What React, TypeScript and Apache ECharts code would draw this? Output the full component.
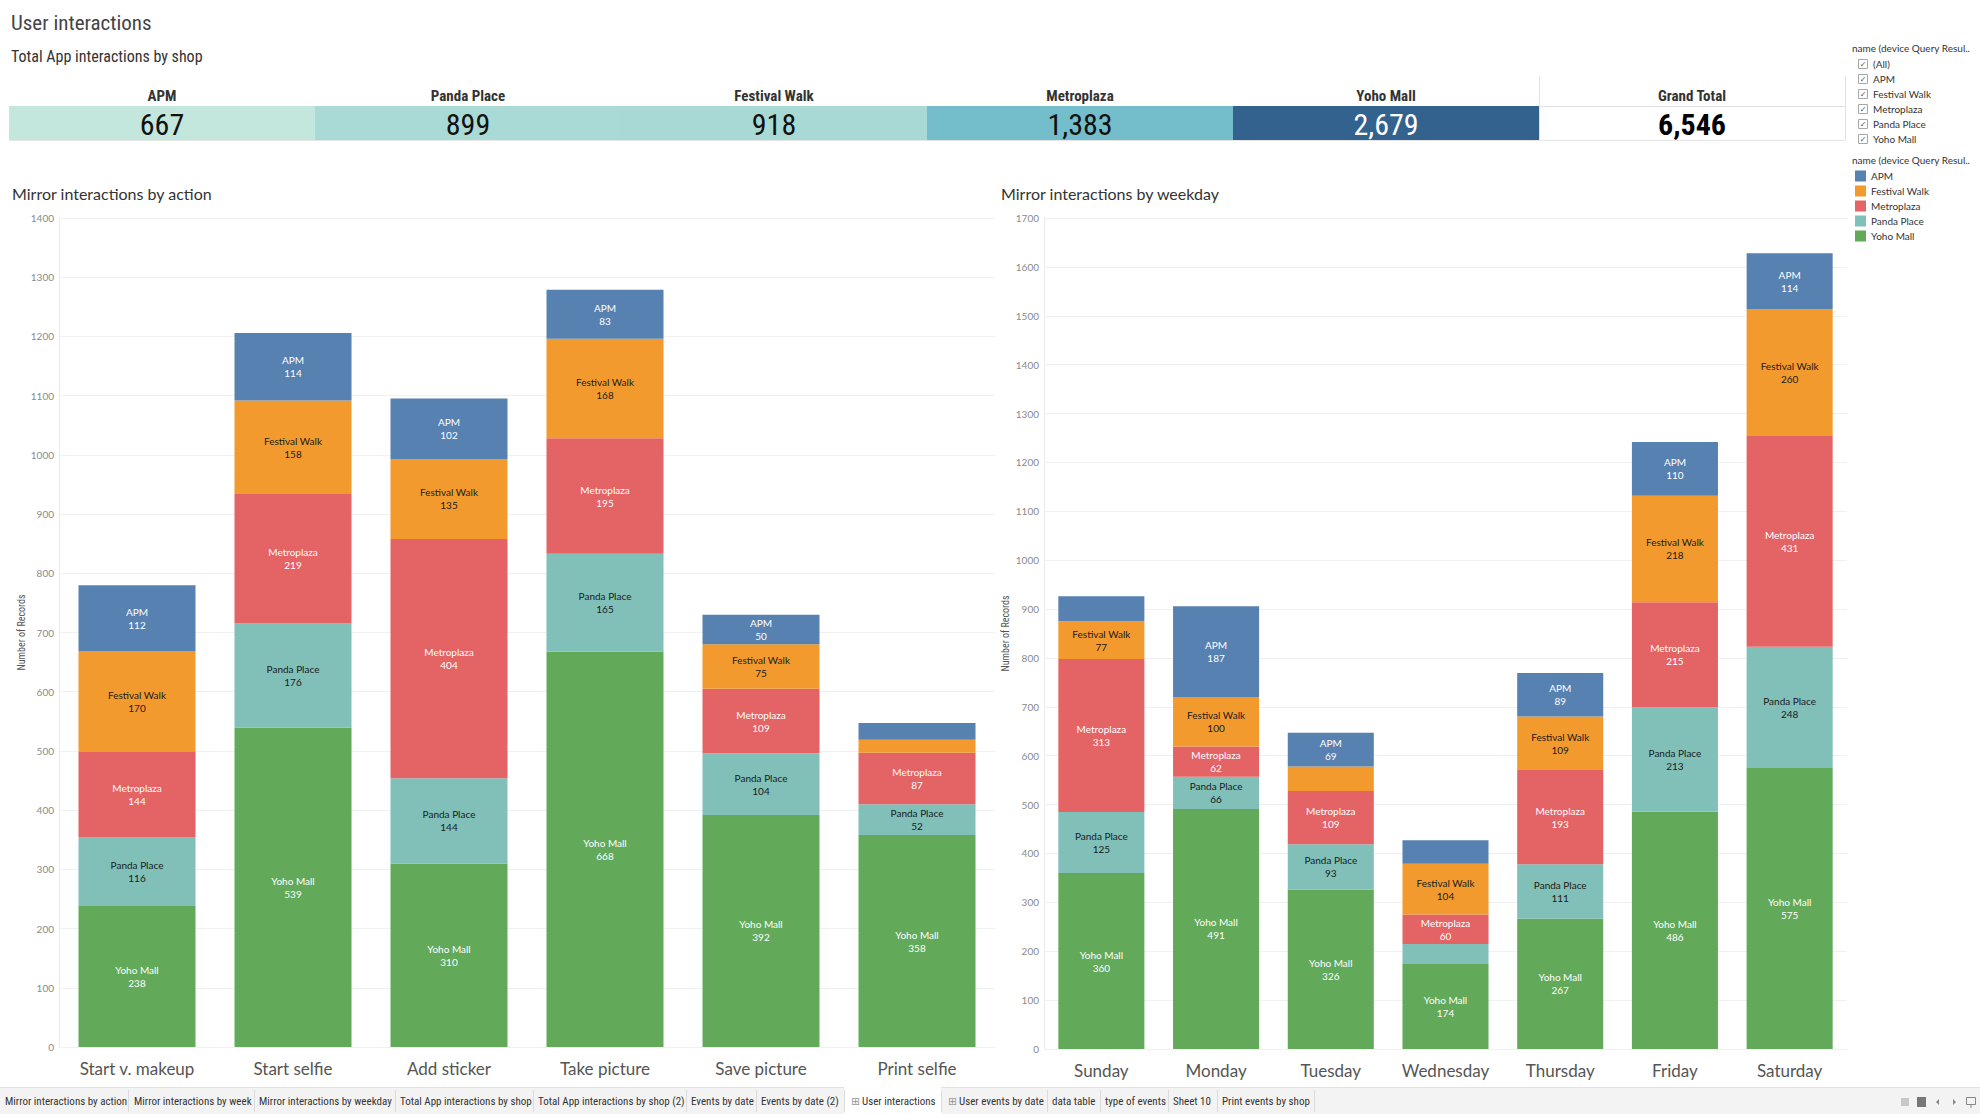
import React, { useEffect, useRef } from "react";
import * as echarts from "echarts";

// ---------- DATA ----------
const shops = ["APM", "Panda Place", "Festival Walk", "Metroplaza", "Yoho Mall"];
const shopTotals = [667, 899, 918, 1383, 2679];

const legendShops = ["APM", "Festival Walk", "Metroplaza", "Panda Place", "Yoho Mall"];
const filterItems = ["(All)", "APM", "Festival Walk", "Metroplaza", "Panda Place", "Yoho Mall"];

const actions = ["Start v. makeup", "Start selfie", "Add sticker", "Take picture", "Save picture", "Print selfie"];
const actionYoho = [238, 539, 310, 668, 392, 358];
const actionPanda = [116, 176, 144, 165, 104, 52];
const actionMetro = [144, 219, 404, 195, 109, 87];
const actionFestival = [170, 158, 135, 168, 75, 22];
const actionApm = [112, 114, 102, 83, 50, 28];

const weekdays = ["Sunday", "Monday", "Tuesday", "Wednesday", "Thursday", "Friday", "Saturday"];
const dayYoho = [360, 491, 326, 174, 267, 486, 575];
const dayPanda = [125, 66, 93, 41, 111, 213, 248];
const dayMetro = [313, 62, 109, 60, 193, 215, 431];
const dayFestival = [77, 100, 50, 104, 109, 218, 260];
const dayApm = [51, 187, 69, 48, 89, 110, 114];

const actionTicksMax = 1400;
const weekdayTicksMax = 1700;
const tickStep = 100;

const tabs = [
  "Mirror interactions by action",
  "Mirror interactions by week",
  "Mirror interactions by weekday",
  "Total App interactions by shop",
  "Total App interactions by shop (2)",
  "Events by date",
  "Events by date (2)",
  "User interactions",
  "User events by date",
  "data table",
  "type of events",
  "Sheet 10",
  "Print events by shop",
];

// ---------- STYLE / LAYOUT ----------
const W = 1980;
const H = 1114;
const NARROW = "'Liberation Sans Narrow','Roboto Condensed','Liberation Sans',sans-serif";
const BODY = "Lato,'Open Sans',sans-serif";

const SHOP_COLORS: Record<string, string> = {
  "APM": "#5781b0",
  "Festival Walk": "#f39a2f",
  "Metroplaza": "#e46365",
  "Panda Place": "#81bfb9",
  "Yoho Mall": "#62a95a",
};
const SHOP_LABEL_COLORS: Record<string, string> = {
  "APM": "#ffffff",
  "Festival Walk": "#1a1a1a",
  "Metroplaza": "#ffffff",
  "Panda Place": "#1a1a1a",
  "Yoho Mall": "#ffffff",
};
const BAND_COLORS = ["#c3e6dd", "#a9dad6", "#a8d9d5", "#74bdcb", "#33628f"];
const BAND_TEXT = ["#111", "#111", "#111", "#111", "#ffffff"];

const GRID_L = { left: 59, right: W - 995, top: 218, bottom: H - 1047 };
const GRID_R = { left: 1044, right: W - 1847, top: 218, bottom: H - 1049 };

const tabX = [5, 134, 259, 400, 538, 691, 761, 862, 959, 1052, 1105, 1173, 1222];
const tabSep = [128, 254, 395, 533, 686, 756, 844, 941, 1047, 1100, 1168, 1217, 1314];

function makeSeries(name: string, values: number[], axisIdx: number, max: number, plotH: number, stack: string) {
  return {
    type: "bar",
    name,
    stack,
    xAxisIndex: axisIdx,
    yAxisIndex: axisIdx,
    barCategoryGap: "25%",
    itemStyle: { color: SHOP_COLORS[name] },
    emphasis: { disabled: true },
    label: {
      show: true,
      position: "inside",
      formatter: (p: any) => `${name}\n${p.value}`,
      color: SHOP_LABEL_COLORS[name],
      fontSize: 10,
      lineHeight: 13,
      fontFamily: BODY,
    },
    data: values.map((v) => ({ value: v, label: { show: (v / max) * plotH >= 27 } })),
  };
}

function buildGraphics() {
  const g: any[] = [];
  // Titles
  g.push({ type: "text", x: 11, y: 23, style: { text: "User interactions", font: `21px ${NARROW}`, fill: "#444", textVerticalAlign: "middle" } });
  g.push({ type: "text", x: 11, y: 56, style: { text: "Total App interactions by shop", font: `16px ${NARROW}`, fill: "#333", textVerticalAlign: "middle" } });
  g.push({ type: "text", x: 12, y: 193, style: { text: "Mirror interactions by action", font: `16px ${BODY}`, fill: "#333", textVerticalAlign: "middle" } });
  g.push({ type: "text", x: 1001, y: 193, style: { text: "Mirror interactions by weekday", font: `16px ${BODY}`, fill: "#333", textVerticalAlign: "middle" } });

  // Top band
  const cellW = 306;
  const bx = 9;
  shops.forEach((s, i) => {
    const x = bx + i * cellW;
    g.push({ type: "rect", shape: { x, y: 106, width: cellW, height: 34 }, style: { fill: BAND_COLORS[i] } });
    g.push({ type: "text", x: x + cellW / 2, y: 96, style: { text: s, font: `bold 15px ${NARROW}`, fill: "#333", textAlign: "center", textVerticalAlign: "middle" } });
    g.push({ type: "text", x: x + cellW / 2, y: 124, style: { text: shopTotals[i].toLocaleString("en-US"), font: `30px ${NARROW}`, fill: BAND_TEXT[i], textAlign: "center", textVerticalAlign: "middle" } });
  });
  const grand = shopTotals.reduce((a, b) => a + b, 0);
  const gx = bx + shops.length * cellW;
  g.push({ type: "text", x: gx + cellW / 2, y: 96, style: { text: "Grand Total", font: `bold 15px ${NARROW}`, fill: "#333", textAlign: "center", textVerticalAlign: "middle" } });
  g.push({ type: "text", x: gx + cellW / 2, y: 124, style: { text: grand.toLocaleString("en-US"), font: `bold 30px ${NARROW}`, fill: "#000", textAlign: "center", textVerticalAlign: "middle" } });
  g.push({ type: "line", shape: { x1: gx + 0.5, y1: 76, x2: gx + 0.5, y2: 140 }, style: { stroke: "#e2e2e2", lineWidth: 1 } });
  g.push({ type: "line", shape: { x1: gx + cellW + 0.5, y1: 76, x2: gx + cellW + 0.5, y2: 140 }, style: { stroke: "#e2e2e2", lineWidth: 1 } });
  g.push({ type: "line", shape: { x1: gx, y1: 106.5, x2: gx + cellW, y2: 106.5 }, style: { stroke: "#e2e2e2", lineWidth: 1 } });
  g.push({ type: "line", shape: { x1: 9, y1: 140.5, x2: gx + cellW, y2: 140.5 }, style: { stroke: "#e6e6e6", lineWidth: 1 } });

  // Filter card
  g.push({ type: "text", x: 1852, y: 48, style: { text: "name (device Query Resul..", font: `10px ${BODY}`, fill: "#333", textVerticalAlign: "middle" } });
  filterItems.forEach((f, i) => {
    const y = 64 + i * 15;
    g.push({ type: "rect", shape: { x: 1858.5, y: y - 4.5, width: 9, height: 9 }, style: { fill: "#fff", stroke: "#a8a8a8", lineWidth: 1 } });
    g.push({ type: "text", x: 1863, y: y + 0.5, style: { text: "✓", font: `8px 'DejaVu Sans',sans-serif`, fill: "#555", textAlign: "center", textVerticalAlign: "middle" } });
    g.push({ type: "text", x: 1873, y, style: { text: f, font: `10px ${BODY}`, fill: "#333", textVerticalAlign: "middle" } });
  });
  // Color legend
  g.push({ type: "text", x: 1852, y: 160, style: { text: "name (device Query Resul..", font: `10px ${BODY}`, fill: "#333", textVerticalAlign: "middle" } });
  legendShops.forEach((s, i) => {
    const y = 176 + i * 15;
    g.push({ type: "rect", shape: { x: 1855, y: y - 5.5, width: 11, height: 11 }, style: { fill: SHOP_COLORS[s] } });
    g.push({ type: "text", x: 1871, y, style: { text: s, font: `10px ${BODY}`, fill: "#333", textVerticalAlign: "middle" } });
  });

  // Tab bar
  g.push({ type: "rect", shape: { x: 0, y: 1087, width: W, height: 27 }, style: { fill: "#f3f3f3" } });
  g.push({ type: "line", shape: { x1: 0, y1: 1087.5, x2: W, y2: 1087.5 }, style: { stroke: "#e2e2e2", lineWidth: 1 } });
  g.push({ type: "rect", shape: { x: 844, y: 1087, width: 97, height: 27 }, style: { fill: "#ffffff" } });
  tabs.forEach((t, i) => {
    g.push({ type: "text", x: tabX[i], y: 1101, style: { text: t, font: `11px ${NARROW}`, fill: "#333", textVerticalAlign: "middle" } });
    g.push({ type: "line", shape: { x1: tabSep[i] + 0.5, y1: 1090, x2: tabSep[i] + 0.5, y2: 1112 }, style: { stroke: "#dcdcdc", lineWidth: 1 } });
  });
  [851, 948].forEach((x) => {
    g.push({ type: "text", x, y: 1101, style: { text: "⊞", font: `11px 'DejaVu Sans',sans-serif`, fill: "#999", textVerticalAlign: "middle" } });
  });
  // Bottom-right controls
  g.push({ type: "rect", shape: { x: 1901, y: 1098, width: 8, height: 8 }, style: { fill: "#c8c8c8" } });
  g.push({ type: "rect", shape: { x: 1917, y: 1097, width: 9, height: 10 }, style: { fill: "#777" } });
  g.push({ type: "polygon", shape: { points: [[1939, 1099], [1939, 1105], [1936, 1102]] }, style: { fill: "#888" } });
  g.push({ type: "polygon", shape: { points: [[1953, 1099], [1953, 1105], [1956, 1102]] }, style: { fill: "#888" } });
  g.push({ type: "rect", shape: { x: 1966.5, y: 1097.5, width: 9, height: 7 }, style: { fill: "none", stroke: "#888", lineWidth: 1 } });
  g.push({ type: "line", shape: { x1: 1971, y1: 1105, x2: 1971, y2: 1108 }, style: { stroke: "#888", lineWidth: 1 } });
  return g;
}

function yAxisCfg(idx: number, max: number, nameGap: number) {
  return {
    type: "value",
    gridIndex: idx,
    min: 0,
    max,
    interval: tickStep,
    name: "Number of Records",
    nameLocation: "middle",
    nameGap,
    nameTextStyle: { fontSize: 10, color: "#555", fontFamily: NARROW },
    axisLine: { show: true, lineStyle: { color: "#ebebeb" } },
    axisTick: { show: false },
    axisLabel: { fontSize: 10, color: "#8a8a8a", fontFamily: BODY, margin: 5, formatter: (v: number) => String(v) },
    splitLine: { show: true, lineStyle: { color: "#f0f0f0", width: 1 } },
  };
}

function xAxisCfg(idx: number, cats: string[]) {
  return {
    type: "category",
    gridIndex: idx,
    data: cats,
    axisLine: { show: false },
    axisTick: { show: false },
    axisLabel: { fontSize: 17, color: "#555", fontFamily: BODY, margin: 13, interval: 0 },
    splitLine: { show: false },
  };
}

export default function App() {
  const ref = useRef<HTMLDivElement>(null);
  useEffect(() => {
    if (!ref.current) return;
    const chart = echarts.init(ref.current, undefined, { renderer: "svg" });
    const plotHL = H - GRID_L.top - GRID_L.bottom;
    const plotHR = H - GRID_R.top - GRID_R.bottom;
    const option: any = {
      animation: false,
      backgroundColor: "#ffffff",
      grid: [
        { ...GRID_L, containLabel: false },
        { ...GRID_R, containLabel: false },
      ],
      xAxis: [xAxisCfg(0, actions), xAxisCfg(1, weekdays)],
      yAxis: [yAxisCfg(0, actionTicksMax, 32), yAxisCfg(1, weekdayTicksMax, 34)],
      series: [
        makeSeries("Yoho Mall", actionYoho, 0, actionTicksMax, plotHL, "a"),
        makeSeries("Panda Place", actionPanda, 0, actionTicksMax, plotHL, "a"),
        makeSeries("Metroplaza", actionMetro, 0, actionTicksMax, plotHL, "a"),
        makeSeries("Festival Walk", actionFestival, 0, actionTicksMax, plotHL, "a"),
        makeSeries("APM", actionApm, 0, actionTicksMax, plotHL, "a"),
        makeSeries("Yoho Mall", dayYoho, 1, weekdayTicksMax, plotHR, "b"),
        makeSeries("Panda Place", dayPanda, 1, weekdayTicksMax, plotHR, "b"),
        makeSeries("Metroplaza", dayMetro, 1, weekdayTicksMax, plotHR, "b"),
        makeSeries("Festival Walk", dayFestival, 1, weekdayTicksMax, plotHR, "b"),
        makeSeries("APM", dayApm, 1, weekdayTicksMax, plotHR, "b"),
      ],
      graphic: buildGraphics(),
    };
    chart.setOption(option);
    return () => chart.dispose();
  }, []);
  return <div ref={ref} style={{ position: "absolute", left: 0, top: 0, width: W, height: H }} />;
}
